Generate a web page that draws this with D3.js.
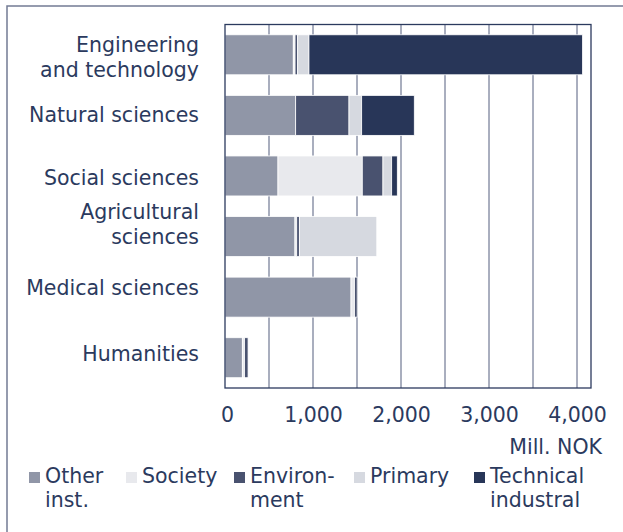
<!DOCTYPE html>
<meta charset="utf-8">
<style>
  body { margin: 0; background: #fff; }
  text { font-family: "DejaVu Sans", Verdana, sans-serif; fill: #2b3a5e; }
</style>
<body>
<script src="https://cdnjs.cloudflare.com/ajax/libs/d3/7.8.5/d3.min.js"></script>
<script>

var width = 623,
    height = 532;

// data (Mill. NOK)
var fields = ["Engineering and technology", "Natural sciences", "Social sciences",
              "Agricultural sciences", "Medical sciences", "Humanities"];
var fieldLines = [["Engineering", "and technology"], ["Natural sciences"], ["Social sciences"],
                  ["Agricultural", "sciences"], ["Medical sciences"], ["Humanities"]];
var otherInst   = [776, 803, 602, 795, 1432, 197];
var society     = [20, 0, 958, 20, 40, 25];
var environment = [30, 606, 235, 30, 30, 40];
var primary     = [128, 144, 99, 880, 0, 0];
var technical   = [3109, 598, 64, 0, 0, 0];
var seriesNames = ["Other inst.", "Society", "Environment", "Primary", "Technical industral"];
var legendLines = [["Other", "inst."], ["Society"], ["Environ-", "ment"], ["Primary"], ["Technical", "industral"]];
var xTicks = [0, 1000, 2000, 3000, 4000];

// layout bits
var colors = ["#9096a7", "#e8e9ed", "#49526f", "#d6d9e0", "#283658"];
var labelShift = [2, -1, 1.5, -13, -9.5, -4];
var legendX = [29, 126, 234, 354, 474];

var plotL = 225, plotR = 591, plotT = 24.5, plotB = 388;

var svg = d3.select("body").append("svg")
    .attr("width", width)
    .attr("height", height);

// outer frame (runs off the right/bottom)
svg.append("rect")
    .attr("x", 7).attr("y", 6)
    .attr("width", 700).attr("height", 600)
    .attr("fill", "none")
    .attr("stroke", "#737b94")
    .attr("stroke-width", 1.5);

var x = d3.scaleLinear().domain([0, 4159]).range([plotL, plotR]);
var y = d3.scaleBand().domain(fields).range([plotT, plotB])
    .paddingInner(0.34).paddingOuter(0.17);

// gridlines every 500
svg.append("g").selectAll("line")
    .data(d3.range(500, 4001, 500))
  .enter().append("line")
    .attr("x1", function(d) { return x(d); })
    .attr("x2", function(d) { return x(d); })
    .attr("y1", plotT).attr("y2", plotB)
    .attr("stroke", "#858ca3")
    .attr("stroke-width", 1.4);

var rows = fields.map(function(f, i) {
  return { field: f, "Other inst.": otherInst[i], "Society": society[i], "Environment": environment[i],
           "Primary": primary[i], "Technical industral": technical[i] };
});
var stacked = d3.stack().keys(seriesNames)(rows);

svg.append("g").selectAll("g")
    .data(stacked)
  .enter().append("g")
    .attr("fill", function(d, i) { return colors[i]; })
  .selectAll("rect")
    .data(function(d) { return d.filter(function(s) { return s[1] > s[0]; }); })
  .enter().append("rect")
    .attr("x", function(d) { return x(d[0]); })
    .attr("width", function(d) { return x(d[1]) - x(d[0]); })
    .attr("y", function(d) { return y(d.data.field); })
    .attr("height", y.bandwidth())
    .attr("stroke", "#fff")
    .attr("stroke-width", 0.8);

// plot border
svg.append("rect")
    .attr("x", plotL).attr("y", plotT)
    .attr("width", plotR - plotL).attr("height", plotB - plotT)
    .attr("fill", "none")
    .attr("stroke", "#2b3a5e")
    .attr("stroke-width", 1.3);

// x axis labels
var xAxis = d3.axisBottom(x)
    .tickValues(xTicks)
    .tickFormat(d3.format(","))
    .tickSize(0)
    .tickPadding(19);
var ax = svg.append("g")
    .attr("transform", "translate(0," + plotB + ")")
    .call(xAxis);
ax.select(".domain").remove();
ax.selectAll("text")
    .attr("fill", "#2b3a5e")
    .style("font-size", "20.5px")
    .style("font-family", "'DejaVu Sans', Verdana, sans-serif");
ax.selectAll(".tick").filter(function(d) { return d === 0; })
    .select("text").attr("dx", 2);

svg.append("text")
    .attr("x", 602).attr("y", 454)
    .attr("text-anchor", "end")
    .style("font-size", "20.5px")
    .text("Mill. NOK");

// category labels
fields.forEach(function(f, i) {
  var lines = fieldLines[i];
  var c = y(f) + y.bandwidth() / 2;
  var first = c + 7.5 - (lines.length - 1) * 12.5 + labelShift[i];
  var t = svg.append("text")
      .attr("text-anchor", "end")
      .style("font-size", "20.5px");
  lines.forEach(function(l, j) {
    t.append("tspan").attr("x", 199).attr("y", first + j * 25).text(l);
  });
});

// legend
seriesNames.forEach(function(s, i) {
  svg.append("rect")
      .attr("x", legendX[i]).attr("y", 472)
      .attr("width", 11).attr("height", 11)
      .attr("fill", colors[i]);
  var t = svg.append("text").style("font-size", "20.5px");
  legendLines[i].forEach(function(l, j) {
    t.append("tspan").attr("x", legendX[i] + 16).attr("y", 483 + j * 23.5).text(l);
  });
});
</script>
